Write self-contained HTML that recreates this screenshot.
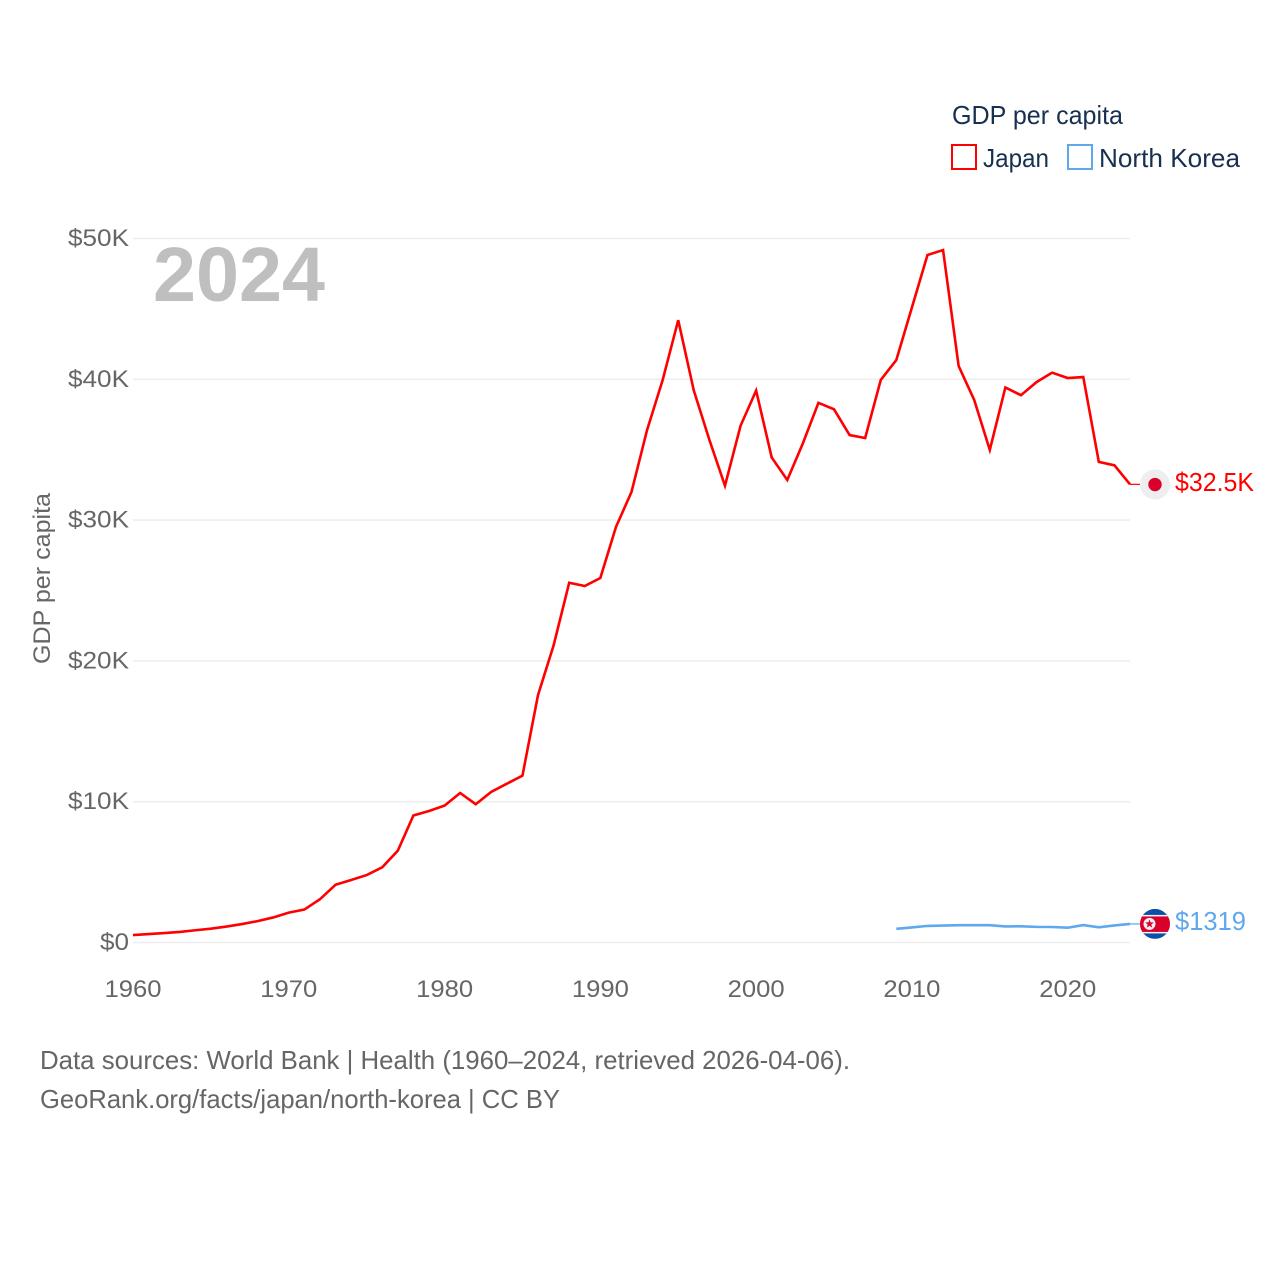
<!DOCTYPE html>
<html lang="en">
<head>
<meta charset="utf-8">
<title>GDP per capita: Japan and North Korea</title>
<style>
  html, body { margin: 0; padding: 0; background: #fff; }
  svg { display: block; font-family: "Liberation Sans", sans-serif; }
</style>
</head>
<body>
<svg id="chart" xmlns="http://www.w3.org/2000/svg" width="1280" height="1280" viewBox="0 0 1280 1280">
  <rect x="0" y="0" width="1280" height="1280" fill="#ffffff"/>
  <defs>
    <clipPath id="flag-clip"><circle cx="0" cy="0" r="15"/></clipPath>
  </defs>
  <g id="grid"></g>
  <g id="y-ticks"></g>
  <g id="x-ticks"></g>
  <text x="153" y="301" font-size="77" font-weight="700" fill="#bfbfbf" textLength="172" lengthAdjust="spacingAndGlyphs">2024</text>
  <text transform="translate(50,664) rotate(-90)" font-size="24" fill="#666666" textLength="171" lengthAdjust="spacingAndGlyphs">GDP per capita</text>
  <g id="series"></g>
  <g>
    <text x="952" y="124" font-size="26" fill="#18304f" textLength="171" lengthAdjust="spacingAndGlyphs">GDP per capita</text>
    <g>
      <rect x="952" y="145" width="24" height="24" fill="#ffffff" stroke="#ff0000" stroke-width="2"/>
      <text x="983" y="167" font-size="26" fill="#18304f" textLength="66" lengthAdjust="spacingAndGlyphs">Japan</text>
    </g>
    <g>
      <rect x="1068" y="145" width="24" height="24" fill="#ffffff" stroke="#5fa8ee" stroke-width="2"/>
      <text x="1099" y="167" font-size="26" fill="#18304f" textLength="141" lengthAdjust="spacingAndGlyphs">North Korea</text>
    </g>
  </g>
  <text x="40" y="1069" font-size="26" fill="#666666" textLength="810" lengthAdjust="spacingAndGlyphs">Data sources: World Bank | Health (1960–2024, retrieved 2026-04-06).</text>
  <text x="40" y="1108" font-size="26" fill="#666666" textLength="520" lengthAdjust="spacingAndGlyphs">GeoRank.org/facts/japan/north-korea | CC BY</text>
</svg>
<script>
const japanYears = [1960,1961,1962,1963,1964,1965,1966,1967,1968,1969,1970,1971,1972,1973,1974,1975,1976,1977,1978,1979,1980,1981,1982,1983,1984,1985,1986,1987,1988,1989,1990,1991,1992,1993,1994,1995,1996,1997,1998,1999,2000,2001,2002,2003,2004,2005,2006,2007,2008,2009,2010,2011,2012,2013,2014,2015,2016,2017,2018,2019,2020,2021,2022,2023,2024];
const japanValues = [0.53,0.6,0.67,0.75,0.87,0.98,1.13,1.31,1.52,1.78,2.12,2.34,3.07,4.1,4.44,4.79,5.34,6.52,9.02,9.34,9.72,10.62,9.82,10.7,11.28,11.85,17.58,21.1,25.55,25.32,25.89,29.5,32.0,36.4,39.95,44.2,39.2,35.7,32.44,36.7,39.2,34.45,32.85,35.45,38.33,37.87,36.04,35.83,39.95,41.37,45.1,48.83,49.18,40.94,38.53,34.98,39.42,38.87,39.8,40.47,40.09,40.16,34.13,33.89,32.54];
const koreaYears = [2009,2010,2011,2012,2013,2014,2015,2016,2017,2018,2019,2020,2021,2022,2023,2024];
const koreaValues = [0.97,1.07,1.18,1.2,1.23,1.23,1.23,1.14,1.15,1.11,1.1,1.05,1.24,1.08,1.21,1.319];
const yTickValues = [0,10,20,30,40,50];
const yTickLabels = ["$0","$10K","$20K","$30K","$40K","$50K"];
const xTickValues = [1960,1970,1980,1990,2000,2010,2020];
const xTickLabels = ["1960","1970","1980","1990","2000","2010","2020"];
const endLabelJapan = "$32.5K";
const endLabelKorea = "$1319";

const SVG_NS = "http://www.w3.org/2000/svg";
const X_LEFT = 133, X_RIGHT = 1130, Y_ZERO = 942.5, Y_TOP = 238.5;
function xScale(year) { return X_LEFT + (year - 1960) * (X_RIGHT - X_LEFT) / (2024 - 1960); }
function yScale(value) { return Y_ZERO - value * (Y_ZERO - Y_TOP) / 50; }
function make(tag, attrs, parent) {
  const el = document.createElementNS(SVG_NS, tag);
  for (const key in attrs) el.setAttribute(key, attrs[key]);
  parent.appendChild(el);
  return el;
}
function linePoints(years, values) {
  return years.map((year, i) => xScale(year).toFixed(2) + "," + yScale(values[i]).toFixed(2)).join(" ");
}

const gridGroup = document.getElementById("grid");
const yTickGroup = document.getElementById("y-ticks");
const xTickGroup = document.getElementById("x-ticks");
const seriesGroup = document.getElementById("series");
const chartRoot = document.getElementById("chart");

yTickValues.forEach((value, i) => {
  const gridLine = make("line", {x1: X_LEFT, x2: X_RIGHT, y1: yScale(value), y2: yScale(value), stroke: "#eeeeee", "stroke-width": 1.6}, gridGroup);
  
  
  const label = make("text", {x: 129, y: yScale(value) + 7.5, "text-anchor": "end", "font-size": 24, fill: "#666666", textLength: i === 0 ? 29 : 61, lengthAdjust: "spacingAndGlyphs"}, yTickGroup);
  label.textContent = yTickLabels[i];
  
  
});

xTickValues.forEach((year, i) => {
  const label = make("text", {x: xScale(year), y: 997, "text-anchor": "middle", "font-size": 24, fill: "#666666", textLength: 57, lengthAdjust: "spacingAndGlyphs"}, xTickGroup);
  label.textContent = xTickLabels[i];
  
  
});

const japanLine = make("polyline", {points: linePoints(japanYears, japanValues), fill: "none", stroke: "#ff0000", "stroke-width": 2.6, "stroke-linejoin": "miter"}, seriesGroup);



const koreaLine = make("polyline", {points: linePoints(koreaYears, koreaValues), fill: "none", stroke: "#5fa8ee", "stroke-width": 2.6}, seriesGroup);



const flagX = xScale(2024) + 25;
const japanEndY = yScale(japanValues[japanValues.length - 1]);
const koreaEndY = yScale(koreaValues[koreaValues.length - 1]);

const japanConnector = make("line", {x1: xScale(2024), x2: flagX - 15, y1: japanEndY, y2: japanEndY, stroke: "#ff0000", "stroke-width": 1.2}, seriesGroup);



const koreaConnector = make("line", {x1: xScale(2024), x2: flagX - 15, y1: koreaEndY, y2: koreaEndY, stroke: "#5fa8ee", "stroke-width": 1.2}, seriesGroup);



const japanFlag = make("g", {transform: "translate(" + flagX + "," + (japanEndY + 0.2) + ")"}, chartRoot);


make("circle", {r: 15, fill: "#eeeeee"}, japanFlag);
make("circle", {r: 6.7, fill: "#d9002a"}, japanFlag);

const koreaFlag = make("g", {transform: "translate(" + flagX + "," + koreaEndY + ")", "clip-path": "url(#flag-clip)"}, chartRoot);


make("rect", {x: -15, y: -15, width: 30, height: 30, fill: "#0d50a8"}, koreaFlag);
make("rect", {x: -15, y: -9, width: 30, height: 18.5, fill: "#f2f2f2"}, koreaFlag);
make("rect", {x: -15, y: -7.5, width: 30, height: 15.5, fill: "#d9002a"}, koreaFlag);
make("circle", {cx: -5.5, cy: 0, r: 6, fill: "#f2f2f2"}, koreaFlag);
make("polygon", {points: "-5.5,-4.6 -4.4,-1.5 -1.1,-1.4 -3.7,0.6 -2.8,3.7 -5.5,1.9 -8.2,3.7 -7.3,0.6 -9.9,-1.4 -6.6,-1.5", fill: "#d9002a"}, koreaFlag);

const japanEndLabel = make("text", {x: 1175, y: japanEndY + 6.5, "font-size": 26, fill: "#ff0000", textLength: 79, lengthAdjust: "spacingAndGlyphs"}, chartRoot);
japanEndLabel.textContent = endLabelJapan;



const koreaEndLabel = make("text", {x: 1175, y: koreaEndY + 6, "font-size": 26, fill: "#5fa8ee", textLength: 71, lengthAdjust: "spacingAndGlyphs"}, chartRoot);
koreaEndLabel.textContent = endLabelKorea;


</script>
</body>
</html>
